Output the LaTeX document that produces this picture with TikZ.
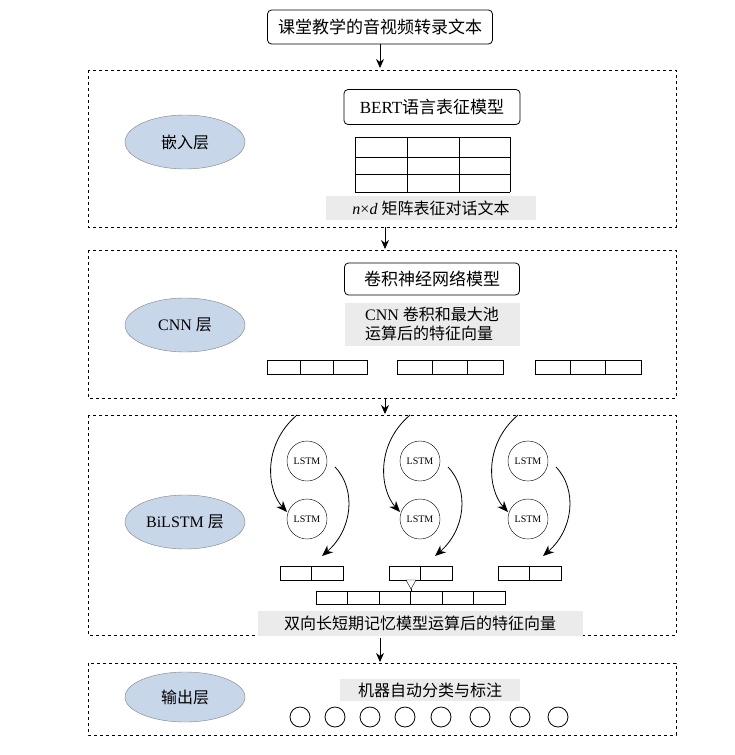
\documentclass[tikz,border=0pt]{standalone}
\usepackage{fontspec}
\setmainfont{Liberation Serif}
\newfontfamily\cjk{Noto Sans CJK SC}
\usetikzlibrary{arrows.meta,shapes.geometric}
\definecolor{ellfill}{RGB}{200,214,234}
\begin{document}
\begin{tikzpicture}[x=1pt,y=-1pt,
  lay/.style={draw,dashed,thick},
  ell/.style={draw=black!50,fill=ellfill,ellipse,minimum width=120pt,minimum height=54pt,font=\fontsize{16}{16}\selectfont},
  rbox/.style={draw,thick,rounded corners=4pt,font=\fontsize{17}{17}\selectfont\cjk,inner sep=0pt},
  gl/.style={fill=black!8,inner sep=0pt,font=\fontsize{16}{19}\selectfont\cjk,align=left},
  arr/.style={-{Stealth[length=9pt,width=8pt]},thick},
  lst/.style={draw,circle,minimum size=40pt,inner sep=0pt,font=\fontsize{10}{10}\selectfont},
  carr/.style={-{Stealth[length=11pt,width=9pt]},thick},
  cell/.style={draw,thick}]
\useasboundingbox (0,0) rectangle (735,755);
% top
\node[rbox,minimum width=225pt,minimum height=34pt] (top) at (380,27) {课堂教学的音视频转录文本};
% layer 1
\draw[lay] (88,70) rectangle (676,227);
\node[ell] (e1) at (185,142) {\cjk 嵌入层};
\node[rbox,minimum width=176pt,minimum height=35pt] (bert) at (432,107) {\rmfamily BERT\cjk 语言表征模型};
\foreach \y in {137,157,174,192} \draw[thick] (355,\y) -- (510,\y);
\foreach \x in {355,407,459,510} \draw[thick] (\x,137) -- (\x,192);
\node[gl,minimum width=210pt,minimum height=24pt] (nd) at (431,208) {\rmfamily\itshape n\upshape×\itshape d\upshape\ \cjk 矩阵表征对话文本};
% layer 2
\draw[lay] (88,250) rectangle (676,398);
\node[ell] (e2) at (185,325) {CNN {\cjk 层}};
\node[rbox,minimum width=175pt,minimum height=32pt] (cnn) at (432,279) {卷积神经网络模型};
\node[gl,minimum width=175pt,minimum height=43pt] (cf) at (432,324) {\rmfamily CNN \cjk 卷积和最大池\\运算后的特征向量};
\foreach \a/\b in {267/367,397/503,535/641}{
  \draw[cell] (\a,360) rectangle (\b,374);
  \pgfmathsetmacro\w{(\b-\a)/3}
  \draw[thick] (\a+\w,360) -- (\a+\w,374);
  \draw[thick] (\a+2*\w,360) -- (\a+2*\w,374);
}
% layer 3
\draw[lay] (88,415) rectangle (676,635);
\node[ell] (e3) at (185,522) {BiLSTM {\cjk 层}};
\foreach \i/\x/\s in {1/307/280,2/420/389,3/528/498}{
  \node[lst] (a\i) at (\x,461) {LSTM};
  \node[lst] (b\i) at (\x,519) {LSTM};
  \coordinate (s\i) at (\x-10,415);
  \coordinate (t\i) at (\x-20,512);
  \draw[carr] (s\i) .. controls (\x-45,445) and (\x-40,490) .. (t\i);
  \coordinate (u\i) at (\x+28,467);
  \coordinate (v\i) at (\x+15,556);
  \draw[carr] (u\i) .. controls (\x+50,490) and (\x+45,530) .. (v\i);
  \draw[cell] (\s,566) rectangle (\s+63,580);
  \draw[thick] (\s+31.5,566) -- (\s+31.5,580);
}
\foreach \k in {0,...,5} \draw[cell] (316+31.5*\k,591) rectangle (316+31.5*\k+31.5,604);
\draw[thick] (411,591) -- (411,589);
\draw[thin,fill=white] (406,580) -- (416,580) -- (411,589) -- cycle;
\node[gl,minimum width=325pt,minimum height=25pt] (bl) at (420,623) {双向长短期记忆模型运算后的特征向量};
% layer 4
\draw[lay] (88,663) rectangle (676,735);
\node[ell,minimum height=50pt] (e4) at (185,697) {\cjk 输出层};
\node[gl,minimum width=180pt,minimum height=22pt] (out) at (430,690) {机器自动分类与标注};
\foreach \x [count=\n] in {300,335,370,405,441,480,520,558} \node[draw,thick,circle,minimum size=20pt,inner sep=0pt] (o\n) at (\x,717) {};
% arrows between
\coordinate (p1) at (380,68);
\draw[arr] (top) -- (p1);
\coordinate (p2a) at (385,227); \coordinate (p2b) at (385,249);
\draw[arr] (p2a) -- (p2b);
\coordinate (p3a) at (385,398); \coordinate (p3b) at (385,414);
\draw[arr] (p3a) -- (p3b);
\coordinate (p4a) at (380,638); \coordinate (p4b) at (380,662);
\draw[arr] (p4a) -- (p4b);
\end{tikzpicture}
\end{document}
